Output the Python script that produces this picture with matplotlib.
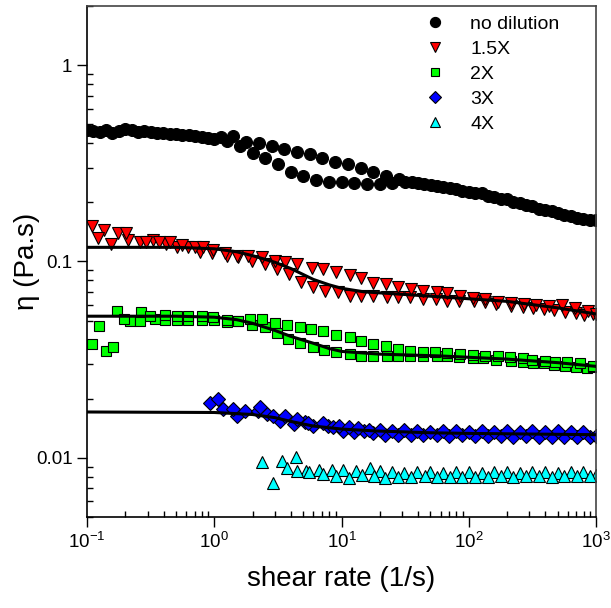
import numpy as np
import matplotlib
matplotlib.use("Agg")
import matplotlib.pyplot as plt

plt.rcParams['font.family'] = ['Liberation Sans', 'DejaVu Sans']
plt.rcParams['mathtext.fontset'] = 'custom'
plt.rcParams['mathtext.rm'] = 'Liberation Sans'
plt.rcParams['mathtext.it'] = 'Liberation Sans:italic'

# no dilution, two sweeps
nd_x1 = [0.1, 0.126, 0.158, 0.2, 0.251, 0.316, 0.398, 0.501, 0.631, 0.794, 1.0, 1.26, 1.58, 2.0,
         2.51, 3.16, 3.98, 5.01, 6.31, 7.94, 10, 12.6, 15.8, 20, 25.1, 31.6, 39.8, 50.1, 63.1,
         79.4, 100, 126, 158, 200, 251, 316, 398, 501, 631, 794, 1000]
nd_y1 = [0.468, 0.457, 0.451, 0.473, 0.457, 0.457, 0.451, 0.446, 0.441, 0.431, 0.421, 0.411,
         0.388, 0.357, 0.337, 0.315, 0.287, 0.273, 0.261, 0.255, 0.255, 0.252, 0.249, 0.249,
         0.252, 0.255, 0.252, 0.246, 0.240, 0.235, 0.227, 0.222, 0.214, 0.207, 0.199, 0.192,
         0.183, 0.177, 0.171, 0.165, 0.162]
nd_x2 = [0.112, 0.141, 0.178, 0.224, 0.282, 0.355, 0.447, 0.562, 0.708, 0.891, 1.12, 1.41, 1.78,
         2.24, 2.82, 3.55, 4.47, 5.62, 7.08, 8.91, 11.2, 14.1, 17.8, 22.4, 28.2, 35.5, 44.7,
         56.2, 70.8, 89.1, 112, 141, 178, 224, 282, 355, 447, 562, 708, 891]
nd_y2 = [0.462, 0.470, 0.460, 0.465, 0.462, 0.450, 0.448, 0.440, 0.436, 0.428, 0.430, 0.434,
         0.408, 0.402, 0.389, 0.375, 0.362, 0.353, 0.337, 0.322, 0.313, 0.299, 0.286, 0.274,
         0.262, 0.255, 0.249, 0.243, 0.237, 0.229, 0.224, 0.216, 0.209, 0.202, 0.195, 0.186,
         0.180, 0.173, 0.167, 0.163]

# 1.5X
r_x1 = [0.109, 0.136, 0.175, 0.21, 0.26, 0.33, 0.42, 0.51, 0.62, 0.77, 0.96, 1.25, 1.53, 1.98,
        2.5, 3.1, 3.86, 4.8, 6.0, 7.4, 9.4, 11.6, 14.1, 17.7, 22.6, 28, 34.6, 43.6, 55, 67, 84,
        110, 135, 165, 213, 265, 320, 390, 470, 570, 700, 800, 950]
r_y1 = [0.151, 0.144, 0.140, 0.128, 0.126, 0.128, 0.123, 0.118, 0.119, 0.112, 0.110, 0.106,
        0.105, 0.100, 0.0966, 0.091, 0.086, 0.079, 0.0738, 0.0704, 0.0696, 0.0664, 0.0664,
        0.0664, 0.0656, 0.0656, 0.0656, 0.0641, 0.0641, 0.0626, 0.0626, 0.0626, 0.0620,
        0.0605, 0.0590, 0.0585, 0.0577, 0.0570, 0.0563, 0.0550, 0.0545, 0.0532, 0.0540]
r_x2 = [0.122, 0.154, 0.202, 0.29, 0.37, 0.45, 0.56, 0.7, 0.81, 0.98, 1.21, 1.5, 1.84, 2.37,
        3.0, 3.6, 4.5, 5.9, 7.2, 9.1, 11.6, 14.1, 17.7, 22.4, 27.7, 35, 43.6, 56, 67, 85, 108,
        135, 170, 215, 270, 340, 430, 540, 680, 860, 1000]
r_y2 = [0.132, 0.123, 0.140, 0.126, 0.126, 0.125, 0.121, 0.118, 0.118, 0.114, 0.110, 0.106,
        0.106, 0.105, 0.100, 0.099, 0.0966, 0.093, 0.091, 0.088, 0.085, 0.082, 0.078, 0.0764,
        0.0738, 0.0720, 0.0704, 0.0696, 0.0688, 0.0664, 0.0650, 0.0640, 0.0625, 0.0615,
        0.0605, 0.0600, 0.0595, 0.0600, 0.0580, 0.0560, 0.0540]
r_fit_x = [0.1, 0.5, 1, 1.5, 2, 3, 4, 6, 8, 10, 15, 30, 60, 200, 500, 1000]
r_fit_y = [0.118, 0.118, 0.116, 0.112, 0.107, 0.099, 0.092, 0.081, 0.076, 0.073, 0.070, 0.068,
           0.066, 0.0626, 0.058, 0.054]

# 2X
g_x1 = [0.11, 0.141, 0.172, 0.218, 0.26, 0.34, 0.41, 0.51, 0.62, 0.80, 1.0, 1.25, 1.53, 1.98,
        2.5, 3.1, 3.8, 4.7, 6.0, 7.3, 9.1, 11.6, 14.1, 17.7, 22.6, 28, 34.6, 43.6, 56, 67, 84,
        108, 130, 165, 213, 265, 320, 390, 470, 570, 700, 850, 950]
g_y1 = [0.0379, 0.0349, 0.0557, 0.0496, 0.0496, 0.0508, 0.0502, 0.0502, 0.0502, 0.0502, 0.0505,
        0.0490, 0.0496, 0.0473, 0.0462, 0.0431, 0.0402, 0.0384, 0.0366, 0.0353, 0.0345, 0.0338,
        0.0330, 0.0330, 0.0330, 0.0330, 0.0330, 0.0330, 0.0330, 0.0330, 0.0326, 0.0322, 0.0322,
        0.0315, 0.0312, 0.0307, 0.0305, 0.0303, 0.0296, 0.0294, 0.0290, 0.0288, 0.0290]
g_x2 = [0.124, 0.16, 0.195, 0.266, 0.31, 0.41, 0.51, 0.62, 0.80, 0.98, 1.25, 1.53, 1.9, 2.37,
        3.0, 3.7, 4.7, 5.8, 7.2, 9.1, 11.6, 14.1, 17.7, 22.4, 27.7, 34.6, 43.6, 54, 67, 85, 108,
        133, 170, 212, 265, 315, 400, 475, 590, 750, 950]
g_y2 = [0.0468, 0.0366, 0.0508, 0.0551, 0.0526, 0.0532, 0.0526, 0.0526, 0.0526, 0.0520, 0.0502,
        0.0496, 0.0508, 0.0508, 0.0484, 0.0473, 0.0462, 0.0452, 0.0441, 0.0421, 0.0411, 0.0393,
        0.0379, 0.0370, 0.0357, 0.0349, 0.0345, 0.0345, 0.0342, 0.0338, 0.0334, 0.0330, 0.0330,
        0.0326, 0.0322, 0.0315, 0.0311, 0.0307, 0.0307, 0.0303, 0.0293]
g_fit_x = [0.1, 0.5, 1, 1.5, 2, 3, 4, 6, 8, 10, 20, 60, 200, 500, 1000]
g_fit_y = [0.0526, 0.0526, 0.0520, 0.0505, 0.0484, 0.0445, 0.0415, 0.0383, 0.0360, 0.0348,
           0.0337, 0.0330, 0.0318, 0.0305, 0.0292]

# 3X
b_x1 = [0.93, 1.17, 1.5, 1.74, 2.2, 2.6, 3.3, 4.2, 5.2, 6.0, 7.8, 10.2, 12.6, 15, 17.7, 22, 28,
        35, 44, 56, 70, 89, 112, 141, 178, 224, 282, 355, 447, 562, 708, 891, 1000]
b_y1 = [0.0190, 0.0177, 0.0163, 0.0173, 0.0173, 0.0167, 0.0154, 0.0149, 0.0152, 0.0145, 0.0145,
        0.0137, 0.0136, 0.0137, 0.0134, 0.0131, 0.0130, 0.0131, 0.0130, 0.0130, 0.0129, 0.0130,
        0.0129, 0.0129, 0.0129, 0.0128, 0.0129, 0.0128, 0.0128, 0.0128, 0.0128, 0.0128, 0.0129]
b_x2 = [1.07, 1.41, 2.3, 2.9, 3.6, 4.5, 5.5, 7.2, 8.6, 9.6, 11.5, 13.5, 16.5, 20, 25, 31, 39,
        50, 63, 79, 100, 126, 158, 200, 251, 316, 398, 501, 631, 794]
b_y2 = [0.0199, 0.0177, 0.0181, 0.0163, 0.0163, 0.0158, 0.0151, 0.0151, 0.0143, 0.0145, 0.0144,
        0.0141, 0.0139, 0.0139, 0.0137, 0.0138, 0.0137, 0.0136, 0.0137, 0.0137, 0.0136, 0.0137,
        0.0136, 0.0137, 0.0136, 0.0137, 0.0136, 0.0137, 0.0136, 0.0136]
b_fit_x = [0.1, 1, 2, 3, 4, 6, 10, 18, 50, 100, 1000]
b_fit_y = [0.0171, 0.0170, 0.0166, 0.0160, 0.0153, 0.0145, 0.0140, 0.0137, 0.0134, 0.0133, 0.0131]

# 4X
c_x1 = [2.37, 3.4, 4.4, 5.3, 6.7, 8.4, 10.2, 13, 16.7, 20, 25, 31, 39, 50, 63, 79, 100, 126,
        158, 200, 251, 316, 398, 501, 631, 794, 1000]
c_y1 = [0.00955, 0.0096, 0.0101, 0.0086, 0.0087, 0.0087, 0.0087, 0.0086, 0.0089, 0.0086, 0.0085,
        0.0084, 0.0085, 0.0085, 0.0084, 0.0085, 0.0085, 0.0084, 0.0085, 0.0085, 0.0084, 0.0085,
        0.0085, 0.0084, 0.0085, 0.0085, 0.0082]
c_x2 = [2.9, 3.7, 4.5, 5.6, 7.2, 9.1, 11.5, 14.5, 18, 22, 28, 35, 45, 56, 71, 89, 112, 141, 178,
        224, 282, 355, 447, 562, 708, 891]
c_y2 = [0.00747, 0.0089, 0.0086, 0.0085, 0.0083, 0.0081, 0.0079, 0.0082, 0.0081, 0.0079, 0.0080,
        0.0080, 0.0081, 0.0080, 0.0080, 0.0080, 0.0080, 0.0080, 0.0081, 0.0080, 0.0081, 0.0081,
        0.0080, 0.0081, 0.0081, 0.0081]

fig = plt.figure(figsize=(6.11, 6.08), dpi=100)
ax = fig.add_axes([0.1424, 0.150, 0.8331, 0.840])

kw = dict(linestyle='none', markeredgecolor='black', markeredgewidth=0.8)
ax.plot(nd_x1, nd_y1, 'o', color='black', ms=8.6, label='no dilution', **kw)
ax.plot(nd_x2, nd_y2, 'o', color='black', ms=8.6, **kw)
ax.plot(r_x1, r_y1, 'v', color='red', ms=9, label='1.5X', **kw)
ax.plot(r_x2, r_y2, 'v', color='red', ms=9, **kw)
ax.plot(g_x1, g_y1, 's', color='#00ff00', ms=7.5, label='2X', **kw)
ax.plot(g_x2, g_y2, 's', color='#00ff00', ms=7.5, **kw)
ax.plot(b_x1, b_y1, 'D', color='blue', ms=7.5, label='3X', **kw)
ax.plot(b_x2, b_y2, 'D', color='blue', ms=7.5, **kw)
ax.plot(c_x1, c_y1, '^', color='cyan', ms=8, label='4X', **kw)
ax.plot(c_x2, c_y2, '^', color='cyan', ms=8, **kw)

for fx, fy in [(r_fit_x, r_fit_y), (g_fit_x, g_fit_y), (b_fit_x, b_fit_y)]:
    ax.plot(fx, fy, '-', color='black', lw=2.2, zorder=5)

ax.set_xscale('log')
ax.set_yscale('log')
ax.set_xlim(0.1, 1000)
ax.set_ylim(0.005, 2)
ax.set_yticks([0.01, 0.1, 1])
ax.set_yticklabels(['0.01', '0.1', '1'])
ax.tick_params(which='major', direction='out', length=7, width=1, labelsize=13.5, top=False, right=False)
ax.tick_params(which='minor', direction='in', length=4, width=1, top=False, right=False)
ax.tick_params(axis='x', pad=4)
for s in ax.spines.values():
    s.set_linewidth(1.2)
ax.spines['right'].set_color('#444444')
ax.spines['top'].set_color('#444444')

ax.set_xlabel('shear rate (1/s)', fontsize=20, labelpad=10)
ax.set_ylabel('η (Pa.s)', fontsize=20, labelpad=-3)

leg = ax.legend(loc='upper left', bbox_to_anchor=(0.612, 1.017), frameon=False, fontsize=14,
                handletextpad=0.8, labelspacing=0.38, markerscale=0.85)

fig.savefig('out.png', dpi=100)
